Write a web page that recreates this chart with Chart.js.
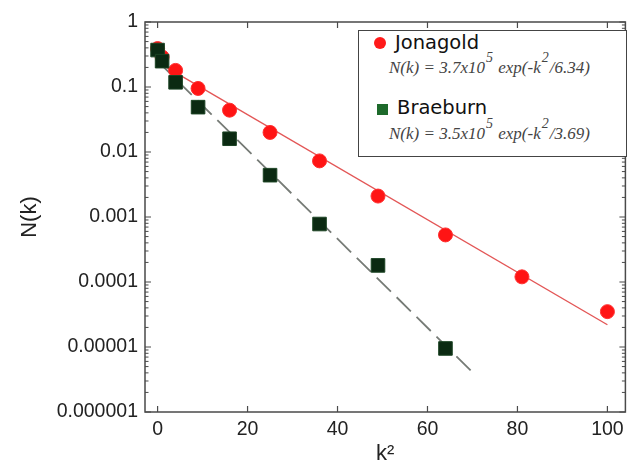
<!DOCTYPE html>
<html>
<head>
<meta charset="utf-8">
<title>N(k) vs k²</title>
<script src="https://cdn.jsdelivr.net/npm/chart.js@4.4.0/dist/chart.umd.min.js"></script>
<style>
    body { margin: 0; background: #fff; }
    #wrap { position: relative; width: 636px; height: 465px; }
    #legend {
        position: absolute; left: 358px; top: 30px; width: 267px; height: 125px;
        border: 1.5px solid #444; background: #fff;
        font-family: "DejaVu Sans", Verdana, sans-serif; color: #111;
    }
    #legend .mark { position: absolute; }
    #legend .name { position: absolute; font-size: 19.5px; line-height: 20px; }
    #legend .fit {
        position: absolute; font-family: "Liberation Serif", "Times New Roman", serif;
        font-style: italic; font-size: 17px; line-height: 18px; color: #444; white-space: nowrap;
    }
    #legend .fit sup { position: relative; top: -11px; font-size: 14px; vertical-align: baseline; margin: 0 1px; }
</style>
</head>
<body>
<div id="wrap">
    <canvas id="myChart" width="636" height="465"></canvas>
    <div id="legend">
        <div class="mark" style="left:15px; top:6px; width:12px; height:12px; border-radius:50%; background:#ff1a1a;"></div>
        <div class="name" style="left:36px; top:2px;">Jonagold</div>
        <div class="fit" style="left:30px; top:28px;">N(k) = 3.7x10<sup>5</sup> exp(-k<sup>2</sup>/6.34)</div>
        <div class="mark" style="left:18px; top:73px; width:11px; height:11px; background:#1d6a2b;"></div>
        <div class="name" style="left:38px; top:67px;">Braeburn</div>
        <div class="fit" style="left:30px; top:94px;">N(k) = 3.5x10<sup>5</sup> exp(-k<sup>2</sup>/3.69)</div>
    </div>
</div>
<script>
// measured points
const kSquared = [0, 1, 4, 9, 16, 25, 36, 49, 64, 81, 100];
const jonagold = [0.39, 0.29, 0.18, 0.095, 0.044, 0.020, 0.0073, 0.0021, 0.00053, 0.00012, 0.000035];
const braeburnK = [0, 1, 4, 9, 16, 25, 36, 49, 64];
const braeburn = [0.37, 0.25, 0.118, 0.049, 0.016, 0.0044, 0.00078, 0.00018, 0.0000095];

// fitted lines (end points)
const jonagoldFitK = [2, 100];
const jonagoldFit = [0.2, 0.000022];
const braeburnFitK = [0, 70];
const braeburnFit = [0.25, 0.0000041];

// axis ticks
const xTicks = [0, 20, 40, 60, 80, 100];
const yTicks = [0.000001, 0.00001, 0.0001, 0.001, 0.01, 0.1, 1];

function toPoints(xs, ys) {
    return xs.map((x, i) => ({ x: x, y: ys[i] }));
}

function decadeLabel(value) {
    const n = Math.round(Math.log10(value));
    return n >= 0 ? String(Math.pow(10, n)) : Math.pow(10, n).toFixed(-n);
}

// box round the plot with inward tick marks on all four sides
const frameTicks = {
    id: 'frameTicks',
    afterDatasetsDraw(chart) {
        const ctx = chart.ctx;
        const area = chart.chartArea;
        const xs = chart.scales.x;
        const ys = chart.scales.y;
        ctx.save();
        ctx.strokeStyle = '#4a4a4a';
        ctx.lineWidth = 1.5;
        ctx.strokeRect(area.left, area.top, area.right - area.left, area.bottom - area.top);

        ctx.lineWidth = 1.2;
        ctx.beginPath();
        xTicks.forEach(v => {
            const px = xs.getPixelForValue(v);
            ctx.moveTo(px, area.bottom); ctx.lineTo(px, area.bottom - 6);
            ctx.moveTo(px, area.top); ctx.lineTo(px, area.top + 6);
        });
        yTicks.forEach(v => {
            const py = ys.getPixelForValue(v);
            ctx.moveTo(area.left, py); ctx.lineTo(area.left + 6, py);
            ctx.moveTo(area.right, py); ctx.lineTo(area.right - 6, py);
        });
        ctx.stroke();

        ctx.lineWidth = 1;
        ctx.beginPath();
        for (let n = -6; n < 0; n++) {
            for (let m = 2; m <= 9; m++) {
                const py = ys.getPixelForValue(m * Math.pow(10, n));
                ctx.moveTo(area.left, py); ctx.lineTo(area.left + 3.5, py);
                ctx.moveTo(area.right, py); ctx.lineTo(area.right - 3.5, py);
            }
        }
        ctx.stroke();
        ctx.restore();
    }
};

const ctx = document.getElementById('myChart');
const tickFont = { family: '"Liberation Sans", Arial, sans-serif', size: 19.5 };

new Chart(ctx.getContext('2d'), {
    type: 'scatter',
    data: {
        datasets: [
            {
                label: 'Jonagold fit',
                data: toPoints(jonagoldFitK, jonagoldFit),
                showLine: true,
                borderColor: '#e35656',
                borderWidth: 1.4,
                pointRadius: 0,
                order: 2
            },
            {
                label: 'Braeburn fit',
                data: toPoints(braeburnFitK, braeburnFit),
                showLine: true,
                borderColor: '#767b76',
                borderWidth: 1.8,
                borderDash: [20, 8],
                pointRadius: 0,
                order: 2
            },
            {
                label: 'Jonagold',
                data: toPoints(kSquared, jonagold),
                pointStyle: 'circle',
                pointRadius: 7,
                backgroundColor: '#ff1414',
                borderColor: '#ff3030',
                borderWidth: 1,
                order: 1
            },
            {
                label: 'Braeburn',
                data: toPoints(braeburnK, braeburn),
                pointStyle: 'rect',
                pointRadius: 9.6,
                backgroundColor: '#0b2a12',
                borderColor: '#1c4424',
                borderWidth: 1,
                order: 0
            }
        ]
    },
    options: {
        responsive: false,
        animation: false,
        layout: { padding: { top: 22, right: 4, left: 0, bottom: 0 } },
        plugins: {
            legend: { display: false },
            tooltip: { enabled: false }
        },
        scales: {
            x: {
                type: 'linear',
                min: -2.8,
                max: 104,
                grid: { display: false, drawTicks: false },
                border: { display: false },
                afterBuildTicks: scale => { scale.ticks = xTicks.map(v => ({ value: v })); },
                afterFit: scale => { scale.height = 53; },
                ticks: { padding: 6, color: '#222', font: tickFont },
                title: {
                    display: true,
                    text: 'k²',
                    color: '#222',
                    padding: 0,
                    font: { family: '"Liberation Sans", Arial, sans-serif', size: 22, lineHeight: 1 }
                }
            },
            y: {
                type: 'logarithmic',
                min: 0.000001,
                max: 1,
                grid: { display: false, drawTicks: false },
                border: { display: false },
                afterBuildTicks: scale => { scale.ticks = yTicks.map(v => ({ value: v, major: true })); },
                afterFit: scale => { scale.width = 145; },
                ticks: {
                    padding: 7,
                    color: '#222',
                    font: tickFont,
                    callback: value => decadeLabel(value)
                },
                title: {
                    display: true,
                    text: 'N(k)',
                    color: '#222',
                    padding: { top: 17, bottom: 0 },
                    font: { family: '"Liberation Sans", Arial, sans-serif', size: 22, lineHeight: 1.2 }
                }
            }
        }
    },
    plugins: [frameTicks]
});
</script>
</body>
</html>
